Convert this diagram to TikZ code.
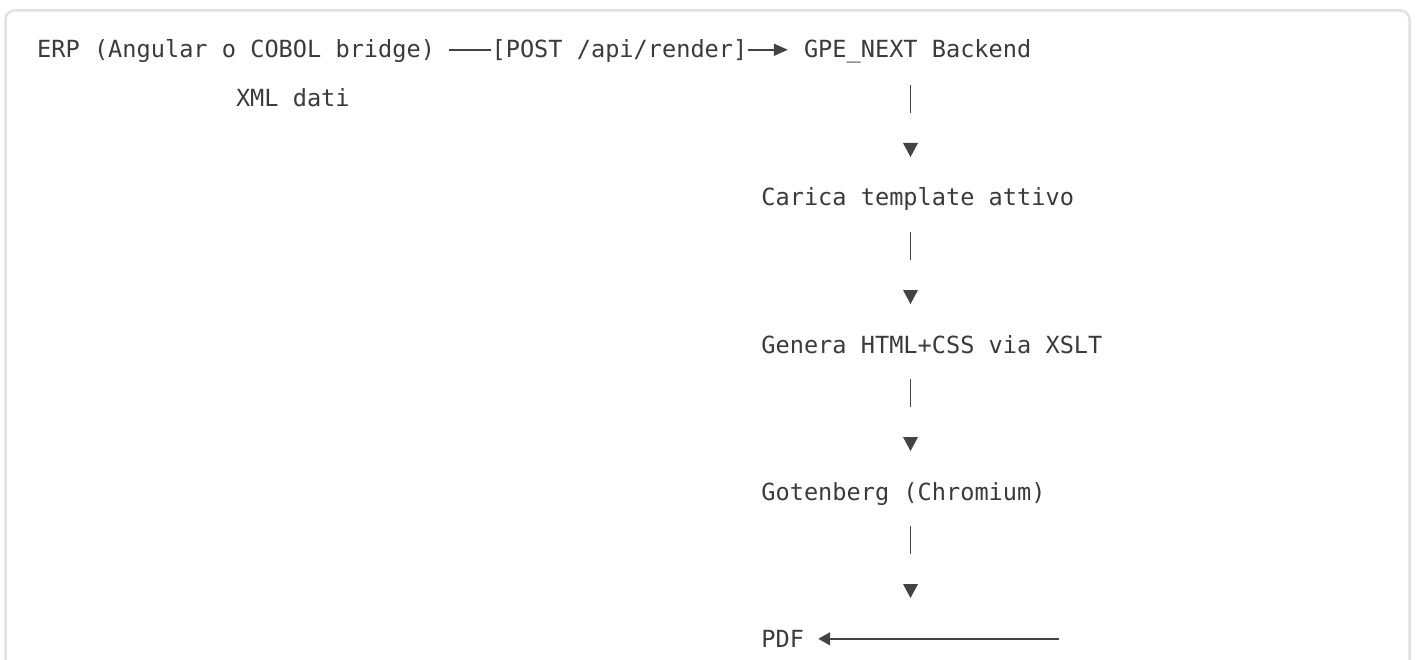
\documentclass[tikz,border=0pt]{standalone}
\usepackage{fontspec}
\newfontfamily\monofont{DejaVu Sans Mono}
\usetikzlibrary{arrows.meta,calc}
\definecolor{txt}{HTML}{3B3B3B}
\definecolor{ln}{HTML}{434343}
\definecolor{framegray}{HTML}{E1E1E1}
\begin{document}
\begin{tikzpicture}[x=1pt,y=-1pt,
  lbl/.style={anchor=base west, inner sep=0pt, text=txt,
    font=\monofont\fontsize{23.6pt}{28pt}\selectfont,
    text height=16.4pt, text depth=0pt},
  conn/.style={draw=ln, line width=1.5pt},
  pipe/.style={draw=ln, line width=1.7pt},
  tri/.style={fill=ln}]
\useasboundingbox (0,0) rectangle (1415,660);
\clip (0,0) rectangle (1415,660);
\fill[white] (0,0) rectangle (1415,660);
\draw[framegray, line width=2.5pt, rounded corners=9pt] (5.5,10.5) rectangle (1409.5,720);

\node[lbl] (erp) at (37,58) {ERP (Angular o COBOL bridge)};
\node[lbl] (post) at (491.4,58) {[POST /api/render]};
\node[lbl] (gpe) at (803.8,58) {GPE\_NEXT Backend};
\node[lbl] (xml) at (235.8,107) {XML dati};
\node[lbl] (carica) at (761.2,206) {Carica template attivo};
\node[lbl] (genera) at (761.2,353) {Genera HTML+CSS via XSLT};
\node[lbl] (goten) at (761.2,500) {Gotenberg (Chromium)};
\node[lbl] (pdf) at (761.2,647) {PDF};

\draw[conn] ([xshift=14.2pt]erp.east) -- (post.west);
\draw[conn, -{Triangle[length=14pt,width=12pt]}] (post.east) -- ([xshift=-16pt]gpe.west);

\foreach \yc in {99,246,393,540} \draw[pipe] (910.5,\yc-14) -- (910.5,\yc+14);
\foreach \yc in {150,297,444,591} \fill[tri] (903,\yc-7) -- (918,\yc-7) -- (910.5,\yc+7) -- cycle;

\coordinate (pdfend) at (1059.4,638.8);
\draw[conn, {Triangle[length=12pt,width=13pt]}-] ([xshift=14pt]pdf.east) -- (pdfend);
\end{tikzpicture}
\end{document}
